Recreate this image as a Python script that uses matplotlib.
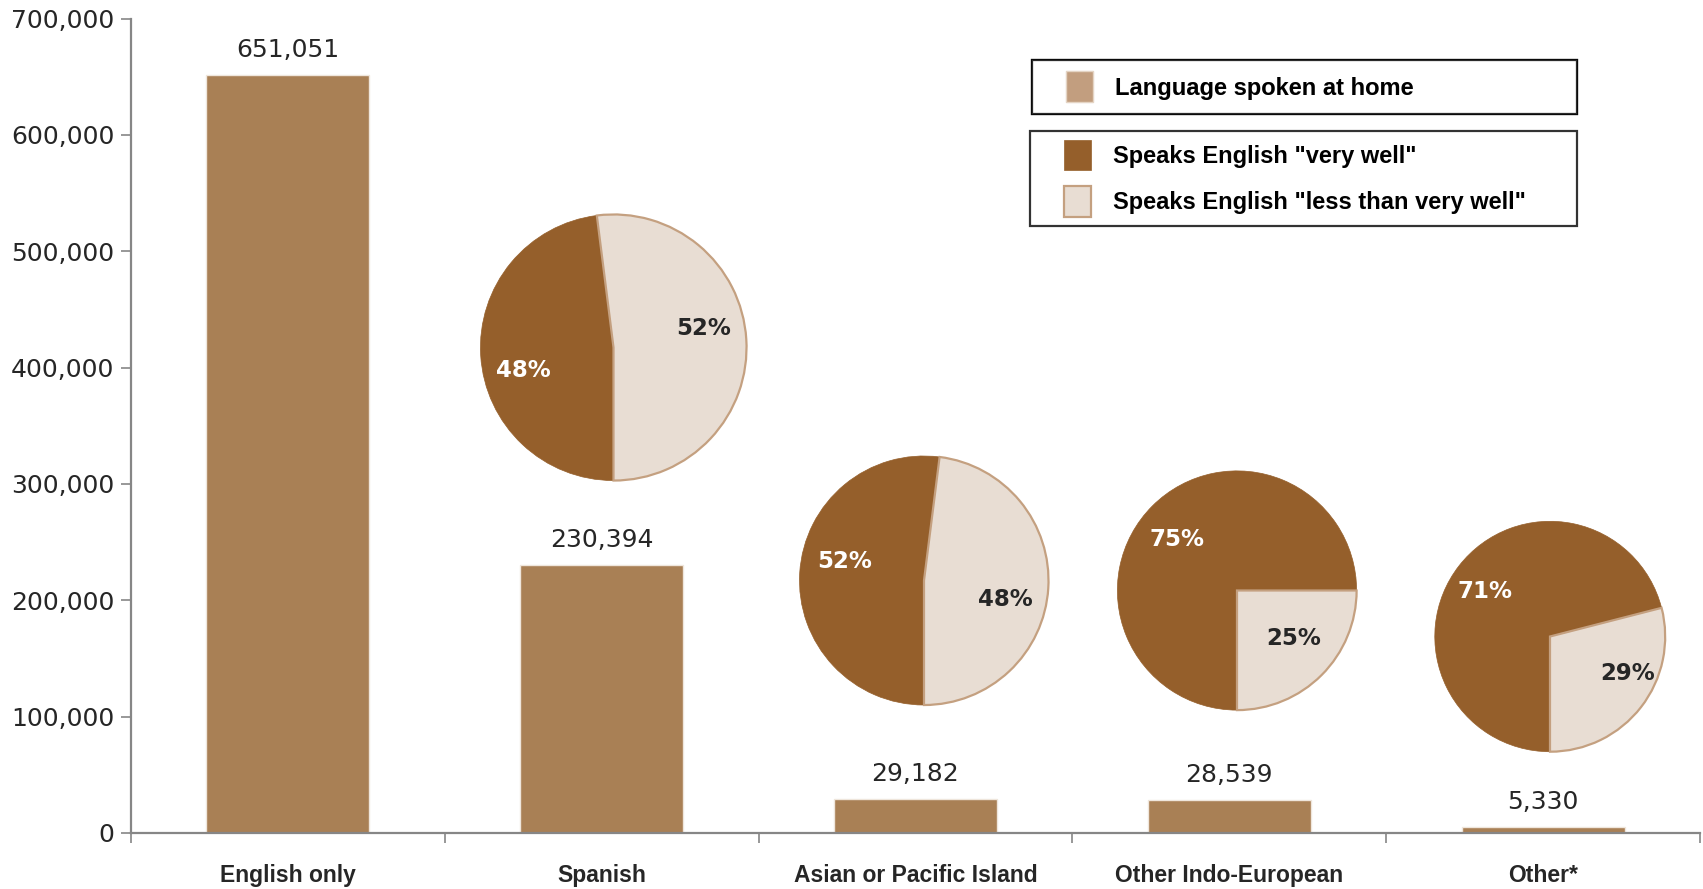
import matplotlib
matplotlib.use("Agg")
import matplotlib.pyplot as plt
from matplotlib.patches import Patch, Rectangle
from matplotlib.legend_handler import HandlerPatch
from matplotlib.ticker import FuncFormatter, FixedLocator

# ---- data ----
categories = ["English only", "Spanish", "Asian or Pacific Island", "Other Indo-European", "Other*"]
speakers = [651051, 230394, 29182, 28539, 5330]
pie_groups = ["Spanish", "Asian or Pacific Island", "Other Indo-European", "Other*"]
very_well = [48, 52, 75, 71]
less_than_very_well = [52, 48, 25, 29]
legend_labels = ["Language spoken at home", 'Speaks English "very well"', 'Speaks English "less than very well"']
y_ticks = [0, 100000, 200000, 300000, 400000, 500000, 600000, 700000]

# ---- style ----
BAR = "#a98055"
BAR_LEG = "#c29e7f"
DARK = "#955f2b"
LIGHT = "#e8ddd3"
EDGE = "#c4a080"
TXT = "#262626"
AX = "#868686"
LAB = ["Liberation Sans", "DejaVu Sans"]

W, H = 1703, 889
fig = plt.figure(figsize=(W / 100, H / 100), dpi=100)
fig.patch.set_facecolor("white")

def fx(px):
    return px / W

def fy(py):
    return 1 - py / H

ax = fig.add_axes([fx(131), fy(833), fx(1700) - fx(131), fy(18.5) - fy(833)])
x = list(range(len(categories)))
bars = ax.bar(x, speakers, width=0.52, color=BAR, edgecolor="#efe6dc", linewidth=1.0, zorder=2)
ax.set_xlim(-0.5, len(categories) - 0.5)
ax.set_ylim(0, 700000)
ax.set_yticks(y_ticks)
ax.yaxis.set_major_formatter(FuncFormatter(lambda v, p: f"{int(v):,}"))
ax.tick_params(axis="y", direction="out", length=7, width=1.2, color=AX, labelsize=18,
               labelcolor=TXT, pad=5)
ax.set_xticks(x)
ax.set_xticklabels(categories, fontfamily=LAB, fontweight="bold", fontsize=16.5, color=TXT)
ax.tick_params(axis="x", which="major", length=0, pad=22)
ax.xaxis.set_minor_locator(FixedLocator([i - 0.5 for i in range(len(categories) + 1)]))
ax.tick_params(axis="x", which="minor", direction="out", length=7, width=1.2, color=AX)
for s in ["top", "right"]:
    ax.spines[s].set_visible(False)
for s in ["left", "bottom"]:
    ax.spines[s].set_color(AX)
    ax.spines[s].set_linewidth(1.6)

for b, v in zip(bars, speakers):
    ax.annotate(f"{v:,}", (b.get_x() + b.get_width() / 2, v), xytext=(0, 9.5),
                textcoords="offset points", ha="center", va="bottom",
                fontsize=18, color=TXT)

# ---- pies ----
pie_layout = [  # center x, center y, radius (pixels)
    (613.5, 347.5, 135.7),
    (924, 580.5, 127),
    (1237, 590.5, 122),
    (1550, 636.5, 117.5),
]
label_offsets = [  # (dark label dx,dy), (light label dx,dy) in radius units
    ((-0.68, -0.17), (0.68, 0.14)),
    ((-0.64, 0.15), (0.65, -0.15)),
    ((-0.50, 0.43), (0.47, -0.40)),
    ((-0.56, 0.39), (0.67, -0.32)),
]
for (cx, cy, r), vw, lw, offs in zip(pie_layout, very_well, less_than_very_well, label_offsets):
    pax = fig.add_axes([fx(cx - r), fy(cy + r), 2 * r / W, 2 * r / H])
    wedges, _ = pax.pie([vw, lw], colors=[DARK, LIGHT], startangle=-90, counterclock=False,
                        radius=1.0)
    wedges[0].set_edgecolor(DARK)
    wedges[0].set_linewidth(0.5)
    wedges[1].set_edgecolor(EDGE)
    wedges[1].set_linewidth(1.6)
    pax.set_xlim(-1.02, 1.02)
    pax.set_ylim(-1.02, 1.02)
    pax.set_aspect("equal")
    pax.axis("off")
    (dx1, dy1), (dx2, dy2) = offs
    pax.text(dx1, dy1, f"{vw}%", ha="center", va="center", fontsize=16.5,
             fontweight="bold", color="white")
    pax.text(dx2, dy2, f"{lw}%", ha="center", va="center", fontsize=16.5,
             fontweight="bold", color=TXT)

# ---- legends ----
FS = 17
PATCH_W = 19.5  # points


def right_patch(legend, orig_handle, xdescent, ydescent, width, height, fontsize):
    return Rectangle((width - PATCH_W - xdescent, -ydescent), PATCH_W, height)


hmap = {Patch: HandlerPatch(patch_func=right_patch)}

h1 = [Patch(facecolor=BAR_LEG, edgecolor="#e4d4c4", linewidth=1)]
leg1 = fig.legend(h1, legend_labels[:1], loc="upper left",
                  bbox_to_anchor=(fx(1032), fy(60), fx(1577) - fx(1032), 0),
                  mode="expand", borderaxespad=0, fancybox=False, frameon=True,
                  edgecolor="black", handlelength=2.1, handleheight=1.65,
                  handletextpad=0.93, borderpad=0.48, handler_map=hmap,
                  prop={"family": LAB, "weight": "bold", "size": FS})
leg1.get_frame().set_linewidth(1.6)
for t in leg1.get_texts():
    t.set_color("black")

h2 = [Patch(facecolor=DARK, edgecolor=DARK, linewidth=0.5),
      Patch(facecolor=LIGHT, edgecolor=EDGE, linewidth=1.6)]
leg2 = fig.legend(h2, legend_labels[1:], loc="upper left",
                  bbox_to_anchor=(fx(1030), fy(131), fx(1577) - fx(1030), 0),
                  mode="expand", borderaxespad=0, fancybox=False, frameon=True,
                  edgecolor="black", handlelength=2.2, handleheight=1.6,
                  handletextpad=0.93, borderpad=0.38, labelspacing=0.68, handler_map=hmap,
                  prop={"family": LAB, "weight": "bold", "size": FS})
leg2.get_frame().set_linewidth(1.6)
fig.add_artist(leg1)

fig.savefig("out.png", dpi=100, facecolor="white")
